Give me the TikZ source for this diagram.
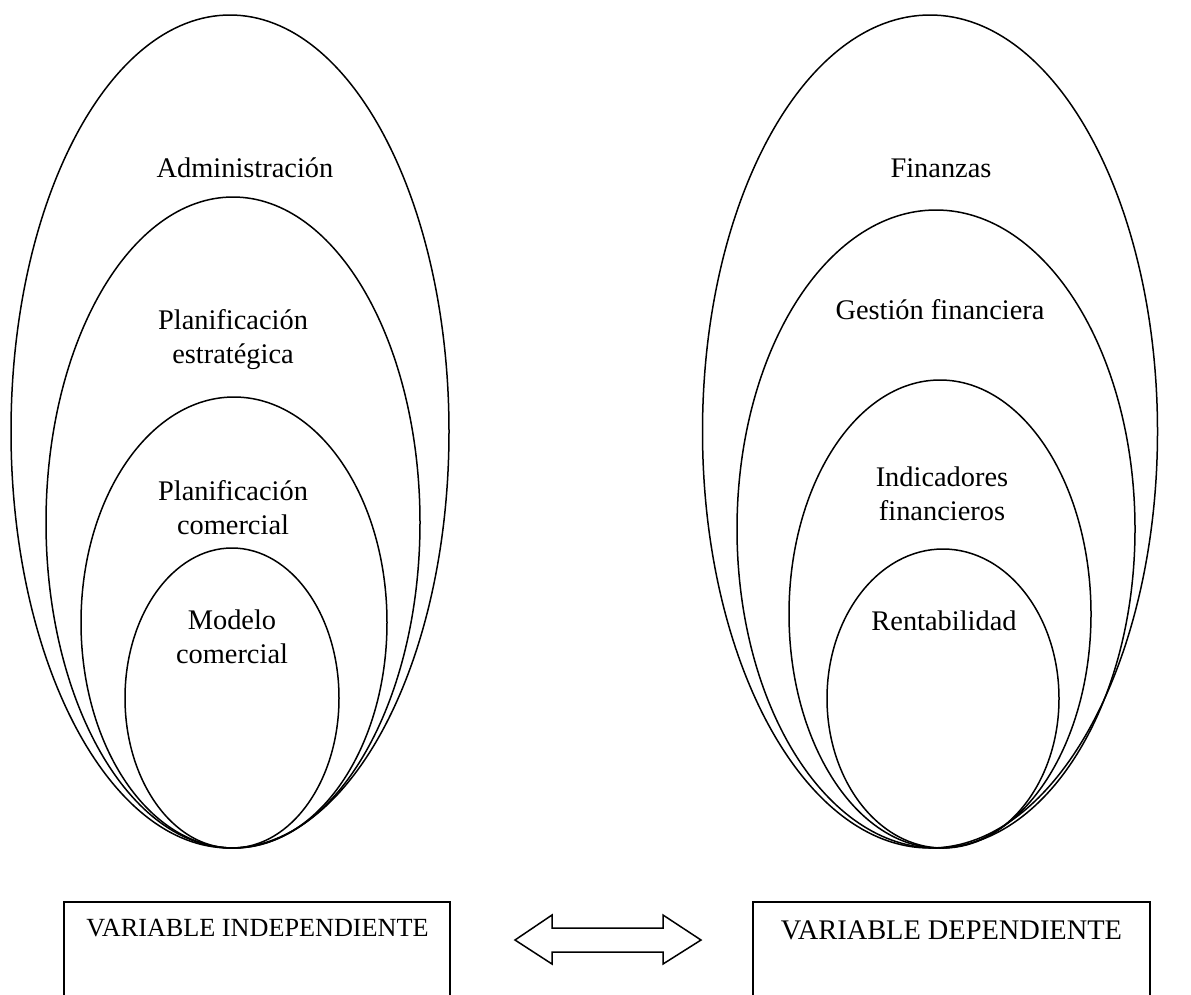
\documentclass[tikz,border=0pt]{standalone}
\usepackage{fontspec}
\setmainfont{Liberation Serif}
\usetikzlibrary{shapes.geometric}
\newcommand\stacklines[1]{\begin{tabular}[t]{@{}c@{}}#1\end{tabular}}
\tikzset{
  ring/.style={draw, ellipse, line width=1.5pt, inner sep=0pt},
  lbl/.style={anchor=base, inner sep=0pt, font=\fontsize{28.4}{34.5}\selectfont},
  varbox/.style={draw, line width=1.5pt, inner sep=0pt},
  vartext/.style={anchor=base, inner sep=0pt},
  twoway/.style={draw, line width=1.5pt, line join=miter, fill=white}
}
\begin{document}
\begin{tikzpicture}[x=1pt,y=-1pt]
\useasboundingbox (0,0) rectangle (1191,994);
\clip (0,0) rectangle (1191,994);
\fill[white] (0,0) rectangle (1191,994);

% independent variable: nested concepts
\node[ring, minimum width=438pt, minimum height=833pt] (L1) at (230,431.5) {};
\node[ring, minimum width=374pt, minimum height=651pt] (L2) at (233,522.5) {};
\node[ring, minimum width=306pt, minimum height=451pt] (L3) at (234,622.5) {};
\node[ring, minimum width=214pt, minimum height=300pt] (L4) at (232,698) {};

\node[lbl] (tL1) at (245,177) {Administración};
\node[lbl] (tL2) at (233,329) {\stacklines{Planificación\\estratégica}};
\node[lbl] (tL3) at (233,500) {\stacklines{Planificación\\comercial}};
\node[lbl] (tL4) at (232,629) {\stacklines{Modelo\\comercial}};

% dependent variable: nested concepts
\node[ring, minimum width=455pt, minimum height=833pt] (R1) at (930,431.5) {};
\node[ring, minimum width=398pt, minimum height=638pt] (R2) at (936,529) {};
\node[ring, minimum width=302pt, minimum height=468pt] (R3) at (940,614) {};
\node[ring, minimum width=232pt, minimum height=299pt] (R4) at (943,698.5) {};

\node[lbl] (tR1) at (941,177) {Finanzas};
\node[lbl] (tR2) at (940,319) {Gestión financiera};
\node[lbl] (tR3) at (942,486) {\stacklines{Indicadores\\financieros}};
\node[lbl] (tR4) at (944,630) {Rentabilidad};

% variable boxes, open at the lower edge of the page
\node[varbox, minimum width=386pt, minimum height=140pt] (VI) at (257,972) {};
\node[varbox, minimum width=397pt, minimum height=140pt] (VD) at (951.5,972) {};
\node[vartext, font=\fontsize{26.2}{30}\selectfont] (tVI) at (257.5,936) {VARIABLE INDEPENDIENTE};
\node[vartext, font=\fontsize{28.4}{32}\selectfont] (tVD) at (951.5,939) {VARIABLE DEPENDIENTE};

% two-way block arrow between the variables
\draw[twoway] (515,940) -- (552,915) -- (552,928) -- (663,928) -- (663,915)
  -- (701,940) -- (663,964) -- (663,952) -- (552,952) -- (552,964) -- cycle;
\end{tikzpicture}
\end{document}
